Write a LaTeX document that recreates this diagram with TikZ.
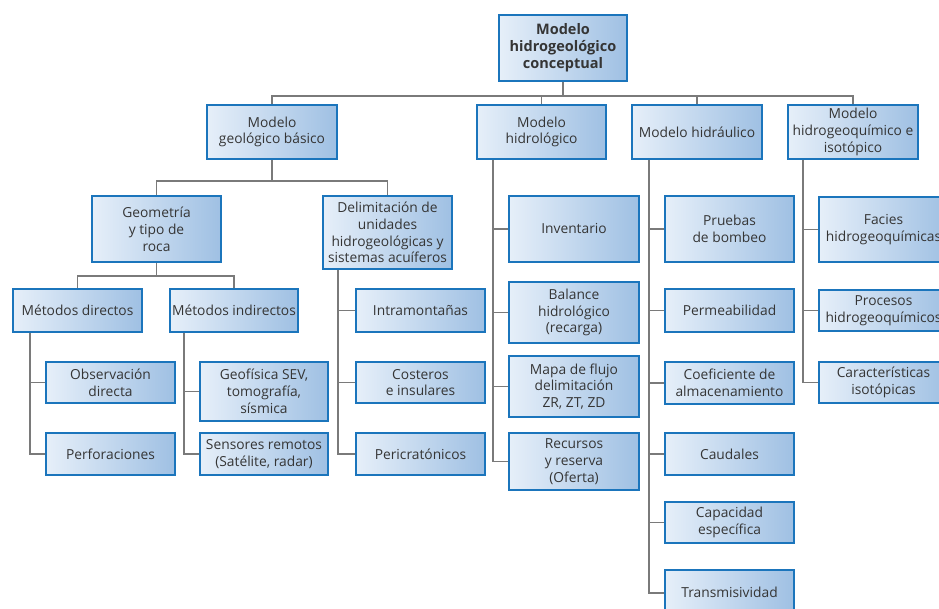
\documentclass[tikz,border=0pt]{standalone}
\usepackage{fontspec}
\setmainfont{Open Sans}
\definecolor{bord}{HTML}{1B75BC}
\definecolor{lightfill}{HTML}{E6EFF9}
\definecolor{darkfill}{HTML}{9FC0E3}
\definecolor{txt}{HTML}{353535}
\definecolor{conncol}{HTML}{7A7A7A}
\tikzset{
  box/.style={draw=bord, line width=2pt, left color=lightfill, right color=darkfill,
    text=txt, align=center, inner sep=0pt,
    font=\fontsize{13.8}{16.8}\selectfont},
  topbox/.style={box, font=\fontsize{14.5}{16.8}\selectfont\bfseries},
  conn/.style={draw=conncol, line width=1.1pt}
}
% \bx[style]{name}{left}{top}{right}{bottom}{text}
\newcommand{\bx}[7][box]{%
  \node[#1, minimum width={#5pt-#3pt}, minimum height={#6pt-#4pt}] (#2) at ({(#3+#5)/2},{(#4+#6)/2}) {#7};}
\begin{document}
\begin{tikzpicture}[x=1pt,y=-1pt]
\useasboundingbox (0,0) rectangle (939,609);
\clip (0,0) rectangle (939,609);
\fill[white] (0,0) rectangle (939,609);
% top
\bx[topbox]{top}{499}{15}{627}{81}{Modelo\\hidrogeológico\\conceptual}
% level 1
\bx{geo}{207}{105}{337}{159}{Modelo\\geológico básico}
\bx{hyd}{477}{105}{606}{159}{Modelo\\hidrológico}
\bx{hra}{632}{105}{762}{159}{Modelo hidráulico}
\bx{hq}{788}{105}{918}{159}{Modelo\\hidrogeoquímico e\\isotópico}
% geologico
\bx{geom}{92}{196}{221}{262}{Geometría\\y tipo de\\roca}
\bx{del}{323}{196}{452}{269}{Delimitación de\\unidades\\hidrogeológicas y\\sistemas acuíferos}
\bx{md}{13}{289}{142}{332}{Métodos directos}
\bx{mi}{170}{289}{298}{332}{Métodos indirectos}
\bx{od}{46}{362}{175}{403}{Observación\\directa}
\bx{perf}{46}{433}{175}{475}{Perforaciones}
\bx{geof}{200}{362}{328}{421}{Geofísica SEV,\\tomografía,\\sísmica}
\bx{sens}{200}{433}{328}{475}{Sensores remotos\\(Satélite, radar)}
\bx{intra}{356}{289}{485}{332}{Intramontañas}
\bx{cost}{356}{362}{485}{403}{Costeros\\e insulares}
\bx{peri}{356}{433}{485}{475}{Pericratónicos}
% hidrologico
\bx{inv}{509}{196}{639}{262}{Inventario}
\bx{bal}{509}{282}{639}{343}{Balance\\hidrológico\\(recarga)}
\bx{mapa}{509}{356}{639}{417}{Mapa de flujo\\delimitación\\ZR, ZT, ZD}
\bx{rec}{509}{433}{639}{490}{Recursos\\y reserva\\(Oferta)}
% hidraulico
\bx{prb}{665}{196}{794}{262}{Pruebas\\de bombeo}
\bx{perm}{665}{289}{794}{332}{Permeabilidad}
\bx{coef}{665}{362}{794}{404}{Coeficiente de\\almacenamiento}
\bx{caud}{665}{433}{794}{475}{Caudales}
\bx{cap}{665}{502}{794}{543}{Capacidad\\específica}
\bx{trans}{665}{570}{794}{614}{Transmisividad}
% hidrogeoquimico
\bx{fac}{819}{197}{948}{262}{Facies\\hidrogeoquímicas}
\bx{proc}{819}{290}{948}{331}{Procesos\\hidrogeoquímicos}
\bx{car}{819}{362}{948}{403}{Características\\isotópicas}
% connectors
\coordinate (bus) at (0,96);
\coordinate (busg) at (0,181);
\coordinate (busm) at (0,276);
\draw[conn] (top.south) -- (top.south |- bus);
\draw[conn] (geo.north) |- (hq.north |- bus) -- (hq.north);
\draw[conn] (hyd.north) -- (hyd.north |- bus);
\draw[conn] (hra.north) -- (hra.north |- bus);
\draw[conn] (geo.south) -- (geo.south |- busg);
\draw[conn] (geom.north) |- (del.north |- busg) -- (del.north);
\draw[conn] (geom.south) -- (geom.south |- busm);
\draw[conn] (md.north) |- (mi.north |- busm) -- (mi.north);
% side branches
\draw[conn] ([xshift=18pt]md.south west) |- (od.west);
\draw[conn] ([xshift=18pt]md.south west) |- (perf.west);
\draw[conn] ([xshift=15pt]mi.south west) |- (geof.west);
\draw[conn] ([xshift=15pt]mi.south west) |- (sens.west);
\draw[conn] ([xshift=16pt]del.south west) |- (intra.west);
\draw[conn] ([xshift=16pt]del.south west) |- (cost.west);
\draw[conn] ([xshift=16pt]del.south west) |- (peri.west);
\draw[conn] ([xshift=17pt]hyd.south west) |- (inv.west);
\draw[conn] ([xshift=17pt]hyd.south west) |- (bal.west);
\draw[conn] ([xshift=17pt]hyd.south west) |- (mapa.west);
\draw[conn] ([xshift=17pt]hyd.south west) |- (rec.west);
\draw[conn] ([xshift=18pt]hra.south west) |- (prb.west);
\draw[conn] ([xshift=18pt]hra.south west) |- (perm.west);
\draw[conn] ([xshift=18pt]hra.south west) |- (coef.west);
\draw[conn] ([xshift=18pt]hra.south west) |- (caud.west);
\draw[conn] ([xshift=18pt]hra.south west) |- (cap.west);
\draw[conn] ([xshift=18pt]hra.south west) |- ([yshift=-1pt]trans.west);
\draw[conn] ([xshift=16pt]hq.south west) |- (fac.west);
\draw[conn] ([xshift=16pt]hq.south west) |- (proc.west);
\draw[conn] ([xshift=16pt]hq.south west) |- (car.west);
\end{tikzpicture}
\end{document}
